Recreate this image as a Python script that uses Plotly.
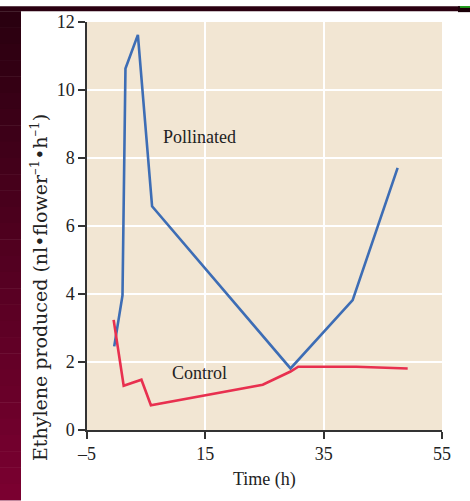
import plotly.graph_objects as go

# Data
pollinated_t = [-0.4, 1.0, 1.5, 3.6, 6.0, 29.4, 39.9, 47.5]
pollinated_v = [2.46, 3.96, 10.63, 11.62, 6.58, 1.81, 3.82, 7.71]
control_t = [-0.5, 1.2, 4.2, 5.8, 24.7, 29.4, 30.7, 40.5, 49.2]
control_v = [3.24, 1.30, 1.48, 0.73, 1.33, 1.72, 1.86, 1.86, 1.81]

x_ticks = [-5, 15, 35, 55]
x_ticktext = ["\u20135", "15", "35", "55"]
y_ticks = [0, 2, 4, 6, 8, 10, 12]

W, H = 470, 501
L, R, T, B = 87, 442, 16, 430
FONT = "Liberation Serif"

def px(x):
    return (x - L) / (R - L)

def py(y):
    return (B - y) / (B - T)

fig = go.Figure()
fig.add_trace(go.Scatter(x=pollinated_t, y=pollinated_v, mode="lines",
                         line=dict(color="#3d6db5", width=2.6), name="Pollinated"))
fig.add_trace(go.Scatter(x=control_t, y=control_v, mode="lines",
                         line=dict(color="#e8304f", width=2.6), name="Control"))

shapes = []
# top dark strip
shapes.append(dict(type="rect", xref="paper", yref="paper", x0=px(0), x1=px(W), y0=py(5), y1=py(0),
                   fillcolor="#2a0010", line=dict(width=0), layer="above"))
# left gradient strip
n = 30
c0 = (0x2a, 0x00, 0x10)
c1 = (0x7a, 0x00, 0x30)
for i in range(n):
    y0p = 5 + (H - 5) * i / n
    y1p = 5 + (H - 5) * (i + 1) / n + 0.5
    f = i / (n - 1)
    col = "rgb(%d,%d,%d)" % tuple(round(a + (b - a) * f) for a, b in zip(c0, c1))
    shapes.append(dict(type="rect", xref="paper", yref="paper", x0=px(0), x1=px(21),
                       y0=py(y1p), y1=py(y0p), fillcolor=col, line=dict(width=0), layer="above"))
# top-right corner
shapes.append(dict(type="rect", xref="paper", yref="paper", x0=px(458), x1=px(W), y0=py(6), y1=py(0),
                   fillcolor="#1a0008", line=dict(width=0), layer="above"))
shapes.append(dict(type="rect", xref="paper", yref="paper", x0=px(460), x1=px(W), y0=py(1.5), y1=py(0),
                   fillcolor="#22cc22", line=dict(width=0), layer="above"))

annotations = [
    dict(x=14.0, y=8.61, xref="x", yref="y", text="Pollinated", showarrow=False,
         xanchor="center", yanchor="middle",
         font=dict(family=FONT, size=18, color="#222")),
    dict(x=14.0, y=1.69, xref="x", yref="y", text="Control", showarrow=False,
         xanchor="center", yanchor="middle",
         font=dict(family=FONT, size=18, color="#222")),
    dict(x=px(264), y=py(480), xref="paper", yref="paper", text="Time (h)", showarrow=False,
         xanchor="center", yanchor="middle",
         font=dict(family=FONT, size=18, color="#222")),
    dict(x=px(39), y=py(286), xref="paper", yref="paper", textangle=-90,
         xanchor="center", yanchor="middle",
         text="Ethylene produced (nl\u2022flower<sup>\u20131</sup>\u2022h<sup>\u20131</sup>)",
         showarrow=False, font=dict(family="DejaVu Serif", size=19, color="#222")),
]

fig.update_layout(
    width=W, height=H,
    margin=dict(l=L, r=W - R, t=T, b=H - B),
    paper_bgcolor="white", plot_bgcolor="#f2e6d3",
    showlegend=False,
    shapes=shapes, annotations=annotations,
    font=dict(family=FONT, size=17, color="#222"),
)
fig.update_xaxes(range=[-5, 55], tickvals=x_ticks, ticktext=x_ticktext,
                 showgrid=True, gridcolor="white", gridwidth=1.5,
                 showline=True, linecolor="#333", linewidth=1.5,
                 ticks="outside", ticklen=7, tickcolor="#333", tickwidth=1.5,
                 zeroline=False, tickfont=dict(family=FONT, size=18, color="#222"))
fig.update_yaxes(range=[0, 12], tickvals=y_ticks,
                 showgrid=True, gridcolor="white", gridwidth=1.5,
                 showline=True, linecolor="#333", linewidth=1.5,
                 ticks="outside", ticklen=7, tickcolor="#333", tickwidth=1.5,
                 zeroline=False, tickfont=dict(family=FONT, size=18, color="#222"))

fig.write_html("out.html", config={"displayModeBar": False},
               post_script="document.body.style.margin='0';document.body.style.padding='0';")
